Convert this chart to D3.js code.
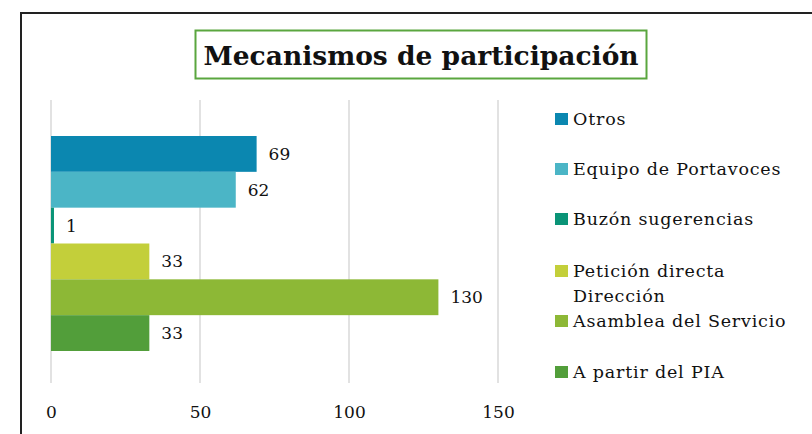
<!DOCTYPE html>
<html>
<head>
<meta charset="utf-8">
<script src="https://cdn.jsdelivr.net/npm/d3@7"></script>
<style>
  body { margin: 0; background: #fff; }
  text { font-family: "DejaVu Serif", serif; fill: #111; }
</style>
</head>
<body>
<div id="chart"></div>
<script>
// series, top to bottom
const series = ['Otros', 'Equipo de Portavoces', 'Buzón sugerencias', 'Petición directa Dirección', 'Asamblea del Servicio', 'A partir del PIA'];
const values = [69, 62, 1, 33, 130, 33];
const colors = ['#0b87b0', '#4bb5c6', '#0a9477', '#c3cf3a', '#8db836', '#529e3a'];
const ticks = [0, 50, 100, 150];
// legend lines (long name wraps)
const legendLines = [['Otros'], ['Equipo de Portavoces'], ['Buzón sugerencias'], ['Petición directa', 'Dirección'], ['Asamblea del Servicio'], ['A partir del PIA']];

let W = 812, H = 434;
let plot = { left: 51, right: 498, top: 100, bottom: 383 };

let svg = d3.select('#chart').append('svg')
    .attr('width', W)
    .attr('height', H);

// outer frame (only top and left are in view)
svg.append('path')
    .attr('d', 'M21,440 L21,13 L820,13')
    .attr('fill', 'none')
    .attr('stroke', '#222')
    .attr('stroke-width', 2);

let x = d3.scaleLinear()
    .domain([0, 150])
    .range([plot.left, plot.right]);

let y = d3.scaleBand()
    .domain(series)
    .range([136, 351])
    .padding(0);

// gridlines
svg.append('g').selectAll('line')
    .data(ticks)
    .enter().append('line')
      .attr('x1', d => x(d))
      .attr('x2', d => x(d))
      .attr('y1', plot.top)
      .attr('y2', plot.bottom)
      .attr('stroke', '#d9d9d9')
      .attr('stroke-width', 1.5);

// x axis labels
let xAxis = svg.append('g')
    .attr('transform', 'translate(0,' + plot.bottom + ')')
    .call(d3.axisBottom(x).tickValues(ticks).tickSize(0).tickPadding(23));
xAxis.select('.domain').remove();
xAxis.selectAll('text')
    .attr('font-size', 17)
    .attr('fill', '#111');

// bars
svg.selectAll('rect.bar')
    .data(series)
    .enter().append('rect')
      .attr('class', 'bar')
      .attr('x', x(0))
      .attr('y', d => y(d))
      .attr('width', (d, i) => x(values[i]) - x(0))
      .attr('height', y.bandwidth())
      .attr('fill', (d, i) => colors[i]);

// value labels
svg.selectAll('text.val')
    .data(series)
    .enter().append('text')
      .attr('class', 'val')
      .attr('x', (d, i) => x(values[i]) + 12)
      .attr('y', d => y(d) + y.bandwidth() / 2)
      .attr('dy', '0.35em')
      .attr('font-size', 17)
      .text((d, i) => values[i]);

// title
let title = svg.append('g');
title.append('rect')
    .attr('x', 195.5)
    .attr('y', 30.5)
    .attr('width', 451)
    .attr('height', 48)
    .attr('fill', '#fff')
    .attr('stroke', '#5aa63f')
    .attr('stroke-width', 2);
title.append('text')
    .attr('x', 421)
    .attr('y', 65)
    .attr('text-anchor', 'middle')
    .attr('font-size', 26.5)
    .attr('font-weight', 'bold')
    .text('Mecanismos de participación');

// legend
let legendY = [119, 169, 219, 271, 321, 372];
let legend = svg.append('g');
series.forEach((s, i) => {
  legend.append('rect')
      .attr('x', 555)
      .attr('y', legendY[i] - 6)
      .attr('width', 13)
      .attr('height', 12)
      .attr('fill', colors[i]);
  legend.append('text')
      .attr('y', legendY[i])
      .attr('font-size', 17.5)
      .attr('letter-spacing', 0.8)
      .selectAll('tspan')
      .data(legendLines[i])
      .enter().append('tspan')
        .attr('x', 573)
        .attr('dy', (d, j) => j ? '25px' : '0.35em')
        .text(d => d);
});
</script>
</body>
</html>
